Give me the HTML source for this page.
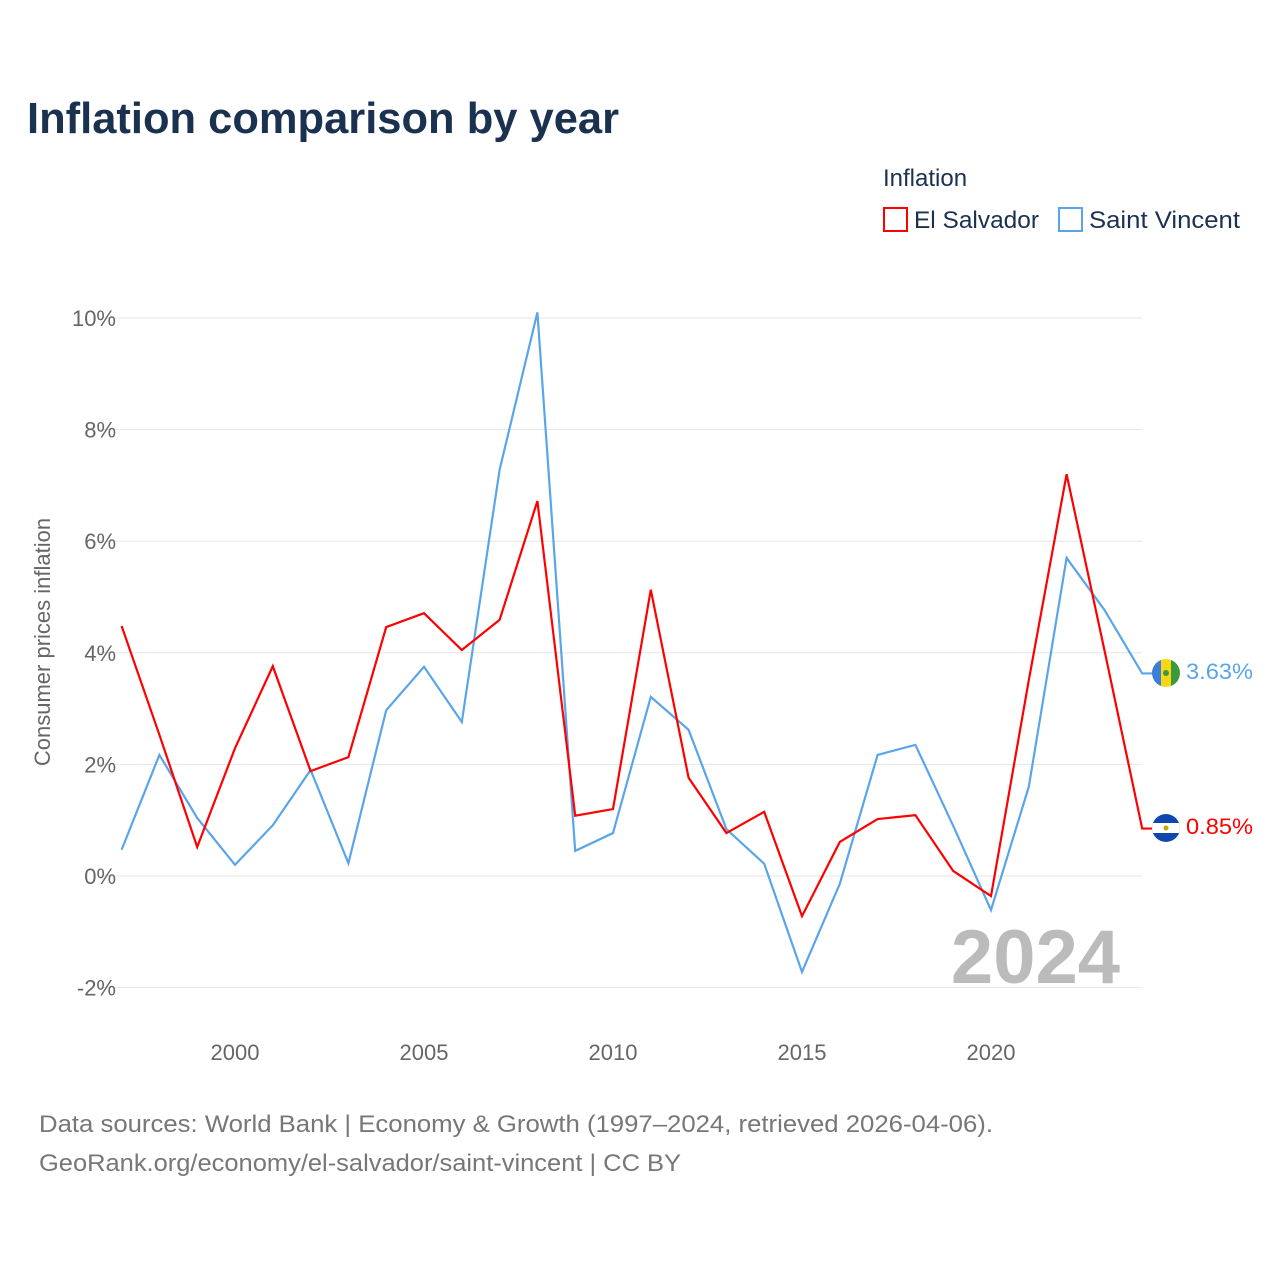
<!DOCTYPE html>
<html><head><meta charset="utf-8"><style>
body{margin:0;background:#fff;font-family:"Liberation Sans",sans-serif}
</style></head><body>
<svg width="1280" height="1280" xmlns="http://www.w3.org/2000/svg" font-family="Liberation Sans, sans-serif">
<defs>
<clipPath id="c1"><circle cx="1166" cy="673" r="14"/></clipPath>
<clipPath id="c2"><circle cx="1166" cy="828" r="14"/></clipPath>
</defs>
<rect width="1280" height="1280" fill="#fff"/>
<text x="27" y="133" font-size="44" font-weight="bold" fill="#1a3150" textLength="592" lengthAdjust="spacingAndGlyphs">Inflation comparison by year</text>
<text x="883" y="186" font-size="24" fill="#1a3150">Inflation</text>
<g><rect x="884" y="208" width="23" height="23" fill="none" stroke="#f00" stroke-width="2"/><text x="914" y="228" font-size="24" fill="#1a3150" textLength="125" lengthAdjust="spacingAndGlyphs">El Salvador</text></g>
<g><rect x="1059" y="208" width="23" height="23" fill="none" stroke="#5aa5ea" stroke-width="2"/><text x="1089" y="228" font-size="24" fill="#1a3150" textLength="151" lengthAdjust="spacingAndGlyphs">Saint Vincent</text></g>
<g id="grid"></g><g id="yt"></g><g id="xt"></g>
<text x="50" y="642" font-size="22" fill="#666" transform="rotate(-90 50 642)" text-anchor="middle">Consumer prices inflation</text>
<text x="1120" y="983" font-size="76" font-weight="bold" fill="#bbb" text-anchor="end">2024</text>
<g id="lines"></g>
<g clip-path="url(#c1)"><rect x="1152" y="659" width="9" height="28" fill="#3d7fd6"/><rect x="1161" y="659" width="10" height="28" fill="#f9d616"/><rect x="1171" y="659" width="9" height="28" fill="#3b9a3b"/><circle cx="1166" cy="673" r="3" fill="#3b9a3b"/></g>
<g clip-path="url(#c2)"><rect x="1152" y="814" width="28" height="28" fill="#0f47af"/><rect x="1152" y="823" width="28" height="10" fill="#fff"/><circle cx="1166" cy="828" r="2.5" fill="#c8a500"/></g>
<text x="1186" y="679" font-size="22" fill="#5aa5ea" textLength="67" lengthAdjust="spacingAndGlyphs">3.63%</text>
<text x="1186" y="834" font-size="22" fill="#f00" textLength="67" lengthAdjust="spacingAndGlyphs">0.85%</text>
<text x="39" y="1132" font-size="24" fill="#777" textLength="954" lengthAdjust="spacingAndGlyphs">Data sources: World Bank | Economy &amp; Growth (1997–2024, retrieved 2026-04-06).</text>
<text x="39" y="1171" font-size="24" fill="#777" textLength="642" lengthAdjust="spacingAndGlyphs">GeoRank.org/economy/el-salvador/saint-vincent | CC BY</text>
</svg>
<script>
const years=[1997,1998,1999,2000,2001,2002,2003,2004,2005,2006,2007,2008,2009,2010,2011,2012,2013,2014,2015,2016,2017,2018,2019,2020,2021,2022,2023,2024];
const elSalvador=[4.48,2.53,0.52,2.29,3.76,1.88,2.13,4.46,4.71,4.05,4.59,6.72,1.08,1.2,5.13,1.76,0.77,1.15,-0.72,0.61,1.02,1.09,0.09,-0.36,3.51,7.2,4.05,0.85];
const saintVincent=[0.47,2.17,1.04,0.2,0.91,1.9,0.23,2.97,3.75,2.76,7.28,10.1,0.45,0.77,3.21,2.62,0.84,0.22,-1.72,-0.14,2.17,2.35,0.9,-0.61,1.6,5.7,4.77,3.63];
const yTicks=[-2,0,2,4,6,8,10];
const xTicks=[2000,2005,2010,2015,2020];
const NS="http://www.w3.org/2000/svg";
const X=v=>235+(v-2000)*37.8, Y=v=>876-v*55.8;
function mk(t,a,p){const e=document.createElementNS(NS,t);for(const k in a)e.setAttribute(k,a[k]);document.getElementById(p).appendChild(e);return e;}
yTicks.forEach(v=>{
 const l=mk('line',{x1:100,x2:1142,y1:Y(v),y2:Y(v),stroke:'#e6e6e6','stroke-width':1},'grid');
 
 
 const t=mk('text',{x:116,y:Y(v)+8,'font-size':22,fill:'#666','text-anchor':'end'},'yt');t.textContent=v+'%';
 
 
});
xTicks.forEach(v=>{
 const t=mk('text',{x:X(v),y:1060,'font-size':22,fill:'#666','text-anchor':'middle'},'xt');t.textContent=v;
 
 
});
[[saintVincent,'#5aa5ea','line-saint-vincent'],[elSalvador,'#f00','line-el-salvador']].forEach(([d,c,n])=>{
 let pts=d.map((v,i)=>X(years[i])+','+Y(v));
 pts.push((X(years[years.length-1])+10)+','+Y(d[d.length-1]));
 const p=mk('polyline',{points:pts.join(' '),fill:'none',stroke:c,'stroke-width':2.2,'stroke-linejoin':'miter'},'lines');
 
 
});
</script>
</body></html>
